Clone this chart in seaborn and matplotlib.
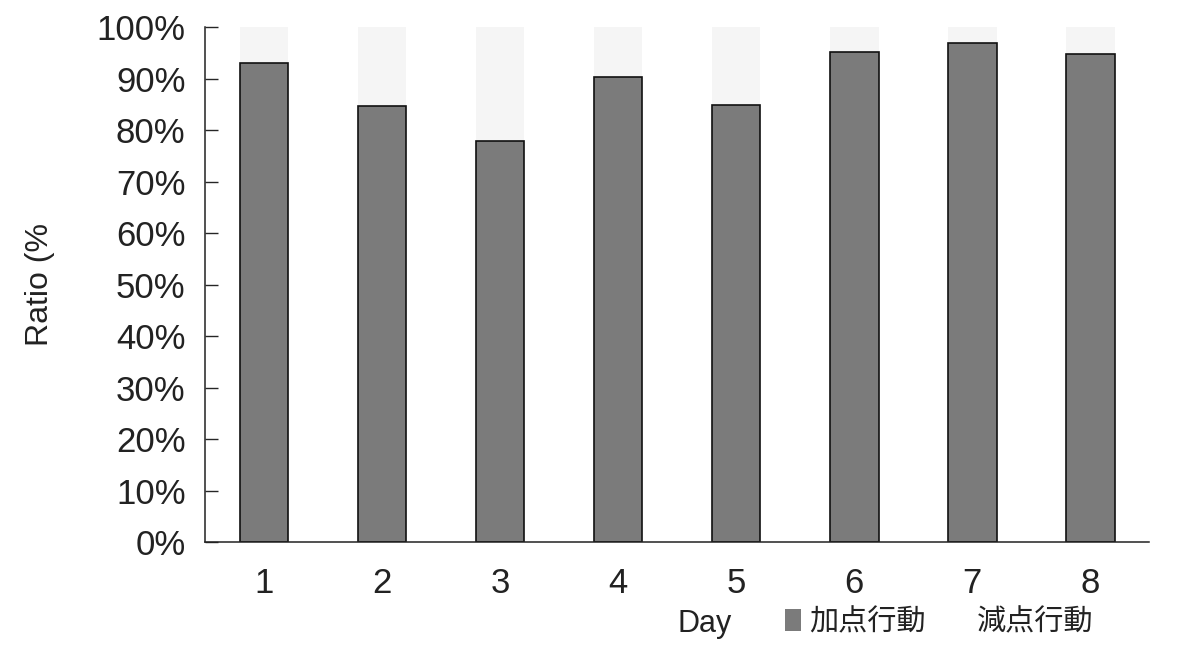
import seaborn as sns
import matplotlib.pyplot as plt
import pandas as pd
from matplotlib.ticker import PercentFormatter
from matplotlib.patches import Patch

# 데이터
days = ['1', '2', '3', '4', '5', '6', '7', '8']
plus_ratio = [93.0, 84.7, 77.9, 90.3, 84.9, 95.1, 96.9, 94.8]    # 加点行動
minus_ratio = [7.0, 15.3, 22.1, 9.7, 15.1, 4.9, 3.1, 5.2]       # 減点行動
series_names = ['加点行動', '減点行動']

df = pd.DataFrame({'day': days, 'plus': plus_ratio, 'minus': minus_ratio})
df['total'] = df['plus'] + df['minus']

sns.set_style('ticks')
plt.rcParams['font.family'] = ['Liberation Sans', 'Noto Sans CJK JP', 'DejaVu Sans']

fig, ax = plt.subplots(figsize=(11.85, 6.48), dpi=100)
fig.subplots_adjust(left=0.173, right=0.970, top=0.958, bottom=0.163)

# 누적 막대: 아래 加点, 위 減点
sns.barplot(data=df, x='day', y='total', color='#f5f5f5', saturation=1,
            width=0.41, edgecolor='none', ax=ax)
sns.barplot(data=df, x='day', y='plus', color='#7b7b7b', saturation=1,
            width=0.41, edgecolor='#111111', linewidth=1.2, ax=ax)

ax.set_ylim(0, 100)
ax.set_xlim(-0.5, 7.5)
ax.set_yticks(range(0, 101, 10))
ax.yaxis.set_major_formatter(PercentFormatter(decimals=0))
ax.tick_params(axis='y', direction='in', length=9, width=1, labelsize=25, pad=14,
               labelcolor='#222222')
ax.tick_params(axis='x', length=0, labelsize=25, pad=18, labelcolor='#222222')
for s in ['top', 'right']:
    ax.spines[s].set_visible(False)
for s in ['left', 'bottom']:
    ax.spines[s].set_linewidth(1.1)
    ax.spines[s].set_color('#222222')

ax.set_ylabel('Ratio (%', fontsize=23, labelpad=30, color='#222222')
ax.set_xlabel('')
fig.text(0.595, 0.037, 'Day', fontsize=22, ha='center', va='center', color='#222222')

handles = [Patch(facecolor='#7b7b7b', edgecolor='none'),
           Patch(facecolor='white', edgecolor='none')]
fig.legend(handles, series_names, loc='center left', bbox_to_anchor=(0.64, 0.04),
           ncol=2, frameon=False, handlelength=0.55, handleheight=0.8,
           handletextpad=0.3, columnspacing=0.9, labelcolor='#222222',
           prop={'family': ['Noto Sans CJK JP', 'DejaVu Sans'], 'size': 21})

plt.savefig('out.png')
